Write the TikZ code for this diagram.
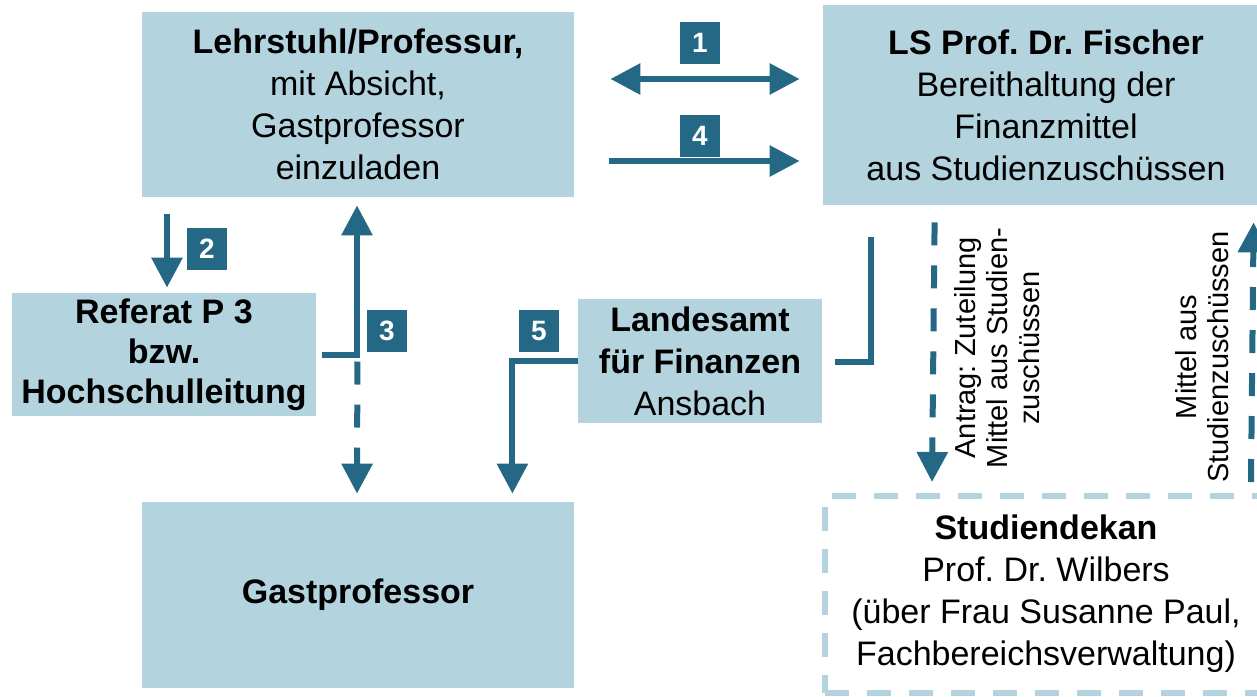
\documentclass[tikz,border=0pt]{standalone}
\usepackage{fontspec}
\setmainfont{Liberation Sans}
\frenchspacing
\usetikzlibrary{arrows.meta,calc,positioning}
\definecolor{hellblau}{RGB}{179,212,222}
\definecolor{petrol}{RGB}{37,104,133}

\begin{document}
\begin{tikzpicture}[x=0.5pt, y=-0.5pt, font=\fontsize{17}{21}\selectfont, line join=miter, >={Triangle[length=15pt,width=15pt]},
	kasten/.style={fill=hellblau, inner sep=0pt, align=center},
	nummer/.style={fill=petrol, text=white, font=\fontsize{14}{14}\selectfont\bfseries, minimum width=20pt, minimum height=21pt, inner sep=0pt},
	pfeil/.style={petrol, line width=3pt},
	strich/.style={pfeil, dash pattern=on 11.5pt off 10pt},
	schrift/.style={rotate=90, align=center, inner sep=0pt, font=\fontsize{14.5}{16}\selectfont}]
			\useasboundingbox (0,0) rectangle (1257,696);
			\node[kasten, minimum width=216pt, minimum height=92.5pt] (lehrstuhl) at (358,104.5) {\textbf{Lehrstuhl/Professur,}\\mit Absicht,\\Gastprofessor\\einzuladen};
			\node[kasten, minimum width=223pt, minimum height=100pt] (fischer) at (1046,105) {\textbf{LS Prof. Dr. Fischer}\\Bereithaltung der\\Finanzmittel\\aus Studienzuschüssen};
			\node[kasten, minimum width=152pt, minimum height=61.5pt, font=\fontsize{17}{20}\selectfont\bfseries] (referat) at (164,354.5) {Referat P 3\\bzw.\\Hochschulleitung};
			\node[kasten, minimum width=122pt, minimum height=62pt] (landes) at (700,361) {\textbf{Landesamt}\\\textbf{für Finanzen}\\Ansbach};
			\node[kasten, minimum width=216pt, minimum height=93pt] (gast) at (358,595) {\textbf{Gastprofessor}};
			\node[draw=hellblau, line width=3pt, dash pattern=on 12pt off 9pt, inner sep=0pt, align=center, minimum width=221pt, minimum height=98.5pt] (dekan) at (1046,594) {\textbf{Studiendekan}\\Prof. Dr. Wilbers\\(über Frau Susanne Paul,\\Fachbereichsverwaltung)};
			\node[schrift] (antrag) at (997,348) {Antrag: Zuteilung\\Mittel aus Studien-\\zuschüssen};
			\node[schrift] (mittel) at (1202,357) {Mittel aus\\Studienzuschüssen};
			\node[nummer] (n1) at (700,42.5) {1};
			\node[nummer] (n4) at (700,135.5) {4};
			\node[nummer] (n2) at (207,248.5) {2};
			\node[nummer] (n3) at (387,330.5) {3};
			\node[nummer] (n5) at (539,330.5) {5};
			\draw[pfeil, <->] ($(lehrstuhl.east)+(36,-25.5)$) -- ($(fischer.west)+(-23,-26)$);
			\draw[pfeil, ->] ($(lehrstuhl.east)+(35,56.5)$) -- ($(fischer.west)+(-23,56)$);
			\draw[pfeil, ->] ($(lehrstuhl.south)+(-191,17)$) -- ($(referat.north)+(3,-5)$);
			\draw[pfeil, ->] ($(referat.east)+(6,0.5)$) -| ($(lehrstuhl.south)+(-1,8)$);
			\draw[strich, ->] ($(referat.east)+(41,7)$) -- ($(gast.north)+(-1,-8)$);
			\draw[pfeil, ->] (landes.west) -| ($(gast.north east)+(-62,-8)$);
			\draw[pfeil] ($(landes.east)+(13,1)$) -| ($(fischer.south west)+(48,32)$);
			\draw[strich, ->] ($(fischer.south west)+(112,17)$) -- ($(dekan.north west)+(110,-10.5)$);
			\draw[strich, ->] ($(dekan.north west)+(429,-10.5)$) -- ($(fischer.south west)+(431,17)$);
\end{tikzpicture}
\end{document}
